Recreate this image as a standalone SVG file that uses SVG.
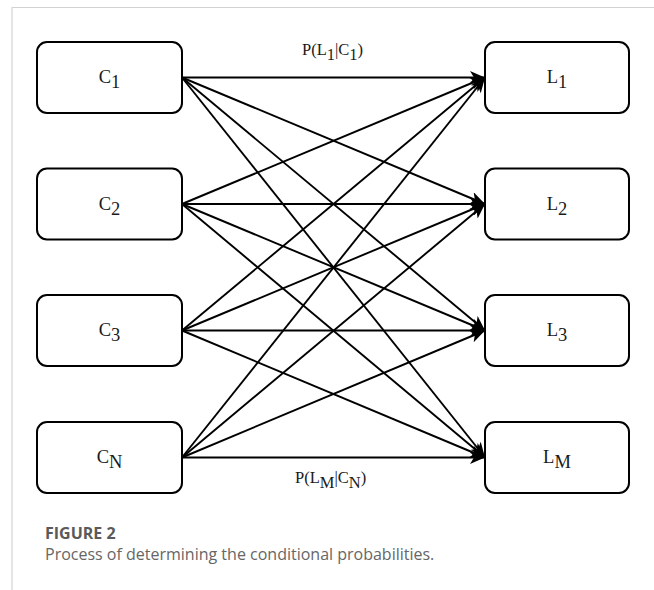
<svg xmlns="http://www.w3.org/2000/svg" width="654" height="590" viewBox="0 0 654 590">
  <style>
    .frame { stroke: #d2d2d2; stroke-width: 1.2; fill: none; }
    .node rect { fill: #ffffff; stroke: #000000; stroke-width: 2; }
    .node text { font-family: "Liberation Serif", "Times New Roman", serif; font-size: 18.5px; fill: #1a1a1a; text-anchor: middle; }
    .edge { stroke: #000000; stroke-width: 1.9; fill: none; marker-end: url(#arrow); }
    .elabel { font-family: "Liberation Serif", "Times New Roman", serif; font-size: 16.5px; fill: #1a1a1a; }
    .cap-title { font-family: "Open Sans", "Noto Sans", sans-serif; font-size: 16px; font-weight: bold; fill: #5a5a5a; }
    .cap-text { font-family: "Open Sans", "Noto Sans", sans-serif; font-size: 16px; fill: #666666; }
  </style>
  <defs>
    <marker id="arrow" markerUnits="userSpaceOnUse" markerWidth="16" markerHeight="13" refX="15" refY="6.5" orient="auto">
      <path d="M0,0 L15,6.5 L0,13 L4,6.5 Z" fill="#000000"/>
    </marker>
  </defs>

  <!-- page frame -->
  <path class="frame" d="M12,590 L12,7.5 L654,7.5"/>

  <!-- connectors: every C node to every L node -->
  <g id="connectors">
    <line class="edge" x1="182" y1="77.5" x2="485" y2="77.5"/>
    <line class="edge" x1="182" y1="77.5" x2="485" y2="204"/>
    <line class="edge" x1="182" y1="77.5" x2="485" y2="330.5"/>
    <line class="edge" x1="182" y1="77.5" x2="485" y2="457.5"/>

    <line class="edge" x1="182" y1="204" x2="485" y2="77.5"/>
    <line class="edge" x1="182" y1="204" x2="485" y2="204"/>
    <line class="edge" x1="182" y1="204" x2="485" y2="330.5"/>
    <line class="edge" x1="182" y1="204" x2="485" y2="457.5"/>

    <line class="edge" x1="182" y1="330.5" x2="485" y2="77.5"/>
    <line class="edge" x1="182" y1="330.5" x2="485" y2="204"/>
    <line class="edge" x1="182" y1="330.5" x2="485" y2="330.5"/>
    <line class="edge" x1="182" y1="330.5" x2="485" y2="457.5"/>

    <line class="edge" x1="182" y1="457.5" x2="485" y2="77.5"/>
    <line class="edge" x1="182" y1="457.5" x2="485" y2="204"/>
    <line class="edge" x1="182" y1="457.5" x2="485" y2="330.5"/>
    <line class="edge" x1="182" y1="457.5" x2="485" y2="457.5"/>

    <text class="elabel" x="302" y="55">P(L<tspan dy="5">1</tspan><tspan dy="-5">|C</tspan><tspan dy="5">1</tspan><tspan dy="-5">)</tspan></text>
    <text class="elabel" x="295" y="483">P(L<tspan dy="5">M</tspan><tspan dy="-5">|C</tspan><tspan dy="5">N</tspan><tspan dy="-5">)</tspan></text>
  </g>

  <!-- left column -->
  <g id="c1" class="node">
    <rect x="37" y="42" width="145" height="71" rx="10"/>
    <text x="109.5" y="83">C<tspan dy="5">1</tspan></text>
  </g>
  <g id="c2" class="node">
    <rect x="37" y="168.5" width="145" height="71" rx="10"/>
    <text x="109.5" y="209.5">C<tspan dy="5">2</tspan></text>
  </g>
  <g id="c3" class="node">
    <rect x="37" y="295" width="145" height="71" rx="10"/>
    <text x="109.5" y="336">C<tspan dy="5">3</tspan></text>
  </g>
  <g id="cn" class="node">
    <rect x="37" y="422" width="145" height="71" rx="10"/>
    <text x="109.5" y="463">C<tspan dy="5">N</tspan></text>
  </g>

  <!-- right column -->
  <g id="l1" class="node">
    <rect x="485" y="42" width="144" height="71" rx="10"/>
    <text x="557" y="83">L<tspan dy="5">1</tspan></text>
  </g>
  <g id="l2" class="node">
    <rect x="485" y="168.5" width="144" height="71" rx="10"/>
    <text x="557" y="209.5">L<tspan dy="5">2</tspan></text>
  </g>
  <g id="l3" class="node">
    <rect x="485" y="295" width="144" height="71" rx="10"/>
    <text x="557" y="336">L<tspan dy="5">3</tspan></text>
  </g>
  <g id="lm" class="node">
    <rect x="485" y="422" width="144" height="71" rx="10"/>
    <text x="557" y="463">L<tspan dy="5">M</tspan></text>
  </g>

  <!-- caption -->
  <text class="cap-title" x="45" y="539">FIGURE 2</text>
  <text class="cap-text" x="45" y="560">Process of determining the conditional probabilities.</text>
</svg>
